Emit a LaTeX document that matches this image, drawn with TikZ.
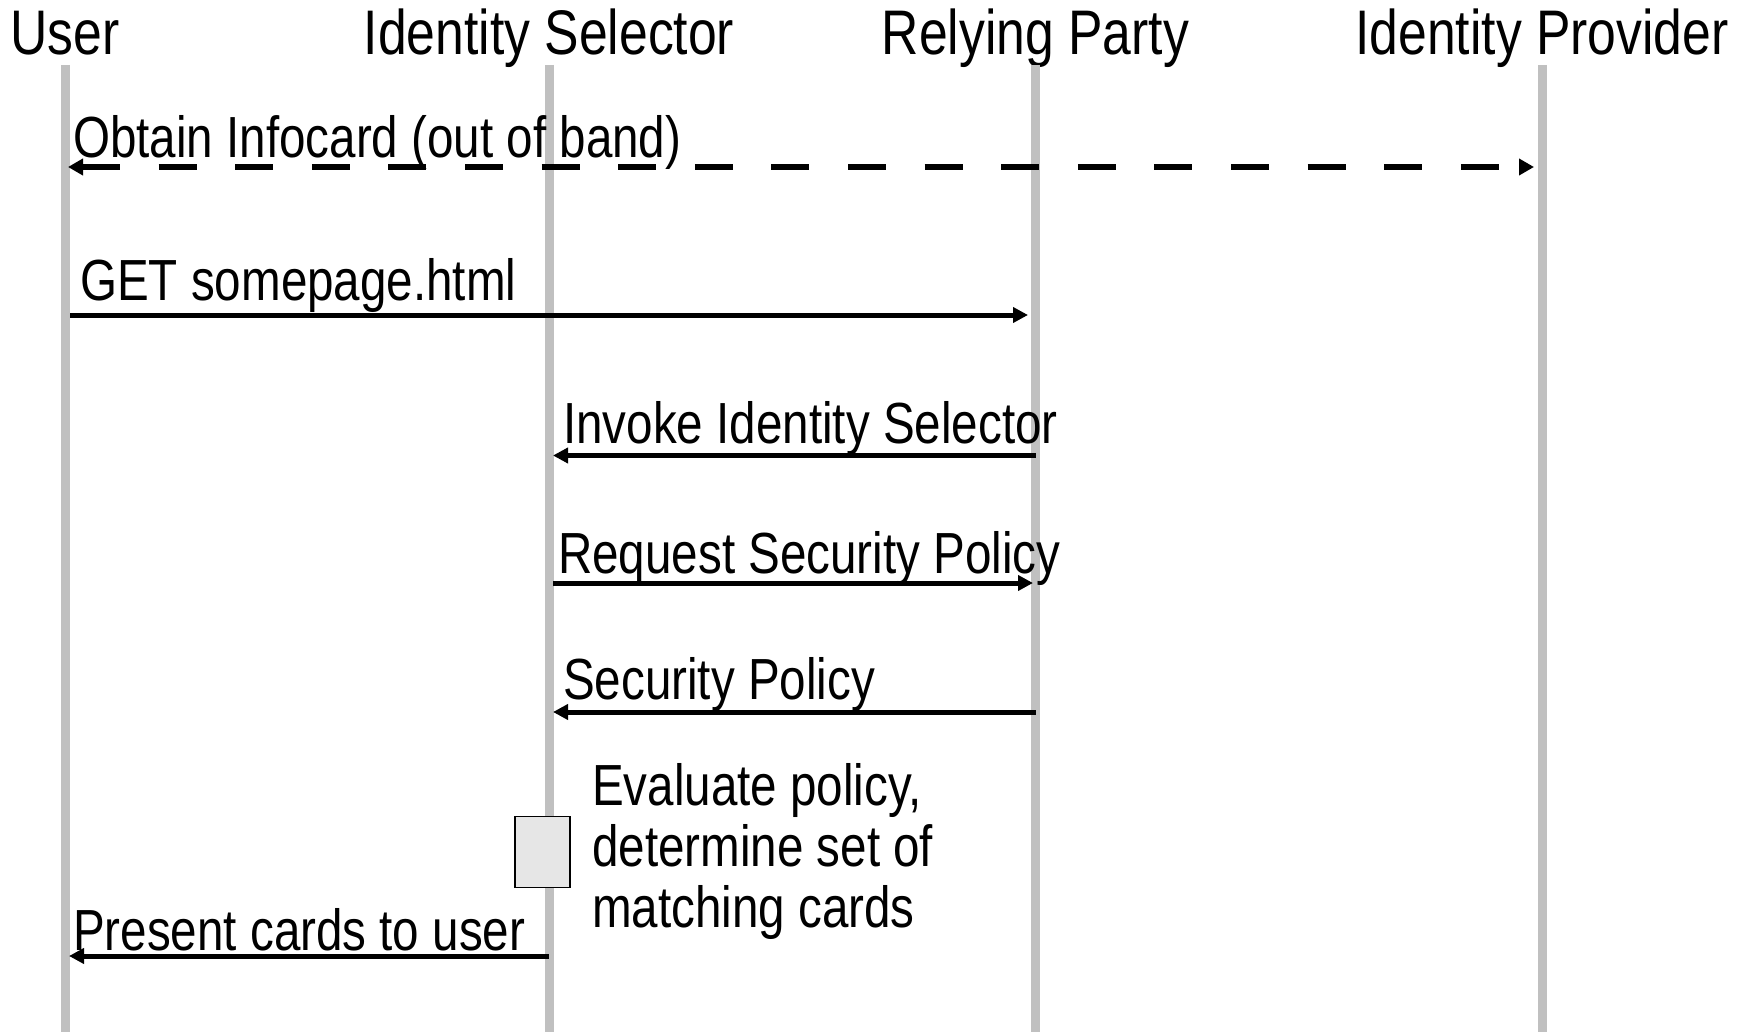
\documentclass[tikz,border=0pt]{standalone}
\usepackage{fontspec}
\setmainfont[FakeStretch=0.82]{Liberation Sans}
\usetikzlibrary{arrows.meta}
\definecolor{lifegray}{HTML}{C0C0C0}
\definecolor{actfill}{HTML}{E6E6E6}
\begin{document}
\begin{tikzpicture}[x=1pt,y=-1pt,
  lifeline/.style={draw=lifegray, line width=9pt},
  header/.style={font=\fontsize{63}{66}\selectfont, anchor=base, inner sep=0pt},
  msglabel/.style={font=\fontsize{58}{61}\selectfont, anchor=base west, inner sep=0pt},
  tip/.style={},
  msg/.style={draw=black, line width=5pt, -{Triangle[length=15pt,width=15pt]}},
  oob/.style={draw=black, line width=5.5pt, dash pattern=on 38pt off 38.6pt,
    {Triangle[length=15pt,width=16pt]}-{Triangle[length=15pt,width=16pt]}},
  activation/.style={draw=black, line width=1.6pt, fill=actfill, inner sep=0pt,
    minimum width=55pt, minimum height=71pt}
]
\useasboundingbox (0,0) rectangle (1742,1032);

% participants
\node[header] (hU)  at (65,55)     {User};
\node[header] (hIS) at (549,55)    {Identity Selector};
\node[header] (hRP) at (1035.5,55) {Relying Party};
\node[header] (hIP) at (1542,55)   {Identity Provider};

% lifelines
\coordinate (uTop)  at (65,65);     \coordinate (uBot)  at (65,1032);
\coordinate (isTop) at (549,65);    \coordinate (isBot) at (549,1032);
\coordinate (rpTop) at (1035.5,65); \coordinate (rpBot) at (1035.5,1032);
\coordinate (ipTop) at (1542,65);   \coordinate (ipBot) at (1542,1032);
\draw[lifeline] (uTop) -- (uBot);
\draw[lifeline] (isTop) -- (isBot);
\draw[lifeline] (rpTop) -- (rpBot);
\draw[lifeline] (ipTop) -- (ipBot);

% message end points
\coordinate (m1a) at (68,167);    \coordinate (m1b) at (1534,167);
\coordinate (m2a) at (70,315);    \coordinate (m2b) at (1028,315);
\coordinate (m3a) at (1035.5,455.5); \coordinate (m3b) at (553,455.5);
\coordinate (m4a) at (553,583);   \coordinate (m4b) at (1033,583);
\coordinate (m5a) at (1035.5,712); \coordinate (m5b) at (553,712);
\coordinate (m6a) at (549,956);   \coordinate (m6b) at (69,956);

% messages
\draw[oob] (m1a) -- (m1b);
\draw[msg] (m2a) -- (m2b);
\draw[msg] (m3a) -- (m3b);
\draw[msg] (m4a) -- (m4b);
\draw[msg] (m5a) -- (m5b);
\draw[msg] (m6a) -- (m6b);

% message labels
\node[msglabel] (l1) at (73,158)  {Obtain Infocard (out of band)};
\node[msglabel] (l2) at (80,300)  {GET somepage.html};
\node[msglabel] (l3) at (563,443) {Invoke Identity Selector};
\node[msglabel] (l4) at (558,573) {Request Security Policy};
\node[msglabel] (l5) at (563,699) {Security Policy};
\node[msglabel] (l6) at (73,950)  {Present cards to user};

% local processing in the identity selector
\node[activation, anchor=north west] (act) at (514,815.5) {};
\node[font=\fontsize{58}{61}\selectfont, align=left, anchor=north west, inner sep=0pt]
  (note) at (592,763) {Evaluate policy,\\determine set of\\matching cards};
\end{tikzpicture}
\end{document}
